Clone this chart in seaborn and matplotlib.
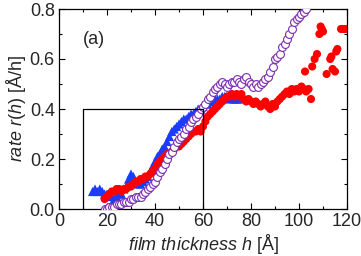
import numpy as np
import pandas as pd
import matplotlib
matplotlib.use('Agg')
import matplotlib.pyplot as plt
import seaborn as sns
from matplotlib.ticker import MultipleLocator

# blue triangles
h_blue = list(range(14, 76))
r_blue = [0.07, 0.08, 0.07, 0.08, 0.07, 0.06, 0.06, 0.05, 0.05, 0.04,
          0.05, 0.06, 0.06, 0.08, 0.09, 0.12, 0.14, 0.13, 0.11, 0.10,
          0.10, 0.11, 0.12, 0.13, 0.15, 0.17, 0.19, 0.21, 0.22, 0.24,
          0.25, 0.27, 0.29, 0.31, 0.32, 0.33, 0.34, 0.35, 0.36, 0.36,
          0.37, 0.38, 0.38, 0.39, 0.40, 0.40, 0.41, 0.42, 0.42, 0.43,
          0.43, 0.44, 0.44, 0.44, 0.45, 0.45, 0.45, 0.44, 0.45, 0.44,
          0.44, 0.44]

# red filled circles
h_red = list(range(19, 106)) + [102.5, 105.5, 106.5, 107.5, 108.5, 109, 109.5, 110,
                                111.5, 113, 113.5, 114, 115, 115.5, 116,
                                117.5, 118, 119, 120]
r_red = [0.04, 0.05, 0.06, 0.07, 0.07, 0.08, 0.08, 0.07, 0.08, 0.08,
         0.09, 0.09, 0.10, 0.11, 0.11, 0.12, 0.12, 0.13, 0.13, 0.14,
         0.15, 0.16, 0.18, 0.19, 0.20, 0.21, 0.22, 0.22, 0.23, 0.24,
         0.25, 0.25, 0.26, 0.27, 0.28, 0.29, 0.30, 0.31, 0.31, 0.32,
         0.31, 0.33, 0.35, 0.37, 0.38, 0.39, 0.40, 0.41, 0.42, 0.43,
         0.44, 0.45, 0.45, 0.46, 0.45, 0.46, 0.45, 0.46, 0.44, 0.43,
         0.44, 0.43, 0.42, 0.43, 0.42, 0.41, 0.42, 0.43, 0.41, 0.40,
         0.42, 0.41, 0.43, 0.44, 0.45, 0.46, 0.47, 0.46, 0.48, 0.47,
         0.48, 0.47, 0.49, 0.48, 0.47, 0.48, 0.44,
         0.55, 0.57, 0.60, 0.62, 0.70, 0.73, 0.72, 0.71,
         0.54, 0.60, 0.61, 0.56, 0.55, 0.63, 0.64,
         0.72, 0.72, 0.72, 0.72]

# purple open circles
h_purple = list(range(19, 104))
r_purple = [0.00, 0.00, 0.01, 0.01, 0.01, 0.02, 0.02, 0.02, 0.03, 0.03,
            0.03, 0.04, 0.04, 0.05, 0.05, 0.05, 0.06, 0.07, 0.08, 0.09,
            0.10, 0.11, 0.13, 0.15, 0.16, 0.18, 0.20, 0.22, 0.23, 0.25,
            0.27, 0.28, 0.29, 0.30, 0.32, 0.33, 0.35, 0.36, 0.37, 0.38,
            0.40, 0.41, 0.42, 0.44, 0.45, 0.47, 0.48, 0.49, 0.50, 0.51,
            0.50, 0.49, 0.50, 0.51, 0.51, 0.52, 0.51, 0.50, 0.52, 0.53,
            0.51, 0.50, 0.49, 0.50, 0.49, 0.50, 0.51, 0.52, 0.53, 0.55,
            0.57, 0.60, 0.61, 0.62, 0.65, 0.66, 0.68, 0.70, 0.72, 0.75,
            0.76, 0.77, 0.78, 0.79, 0.80]

# box marking the zoomed region
box_h = [10, 10, 60, 60]
box_r = [0, 0.4, 0.4, 0]

sns.set_style('ticks')
plt.rcParams['font.family'] = ['Liberation Sans', 'DejaVu Sans']
plt.rcParams['mathtext.fontset'] = 'custom'
plt.rcParams['mathtext.it'] = 'Liberation Sans:italic'
plt.rcParams['mathtext.rm'] = 'Liberation Sans'

fs = 13
fig = plt.figure(figsize=(3.61, 2.56), dpi=100)
ax = fig.add_axes([59/361, 47/256, 288/361, 200/256])

sns.scatterplot(x=h_blue, y=r_blue, marker='^', s=44, color='#1a3cff',
                edgecolor='none', linewidth=0, ax=ax, zorder=2)
sns.scatterplot(x=h_red, y=r_red, marker='o', s=34, color='#ff0000',
                edgecolor='none', linewidth=0, ax=ax, zorder=3)
sns.scatterplot(x=h_purple, y=r_purple, marker='o', s=32, facecolor='white',
                edgecolor='#7a2db0', linewidth=0.8, ax=ax, zorder=4)

ax.plot(box_h, box_r, color='black', lw=0.9, zorder=5)

ax.set_xlim(0, 120)
ax.set_ylim(0, 0.8)
ax.xaxis.set_major_locator(MultipleLocator(20))
ax.xaxis.set_minor_locator(MultipleLocator(10))
ax.yaxis.set_major_locator(MultipleLocator(0.2))
ax.yaxis.set_minor_locator(MultipleLocator(0.1))
ax.set_yticklabels(['%.1f' % v for v in ax.get_yticks()])
ax.tick_params(which='both', direction='in', top=True, right=True,
               labelsize=fs, width=0.8, color='black', pad=3)
ax.tick_params(which='major', length=4)
ax.tick_params(which='minor', length=2.5)
for s in ax.spines.values():
    s.set_linewidth(0.9)
    s.set_color('black')

ax.set_xlabel(r'$\mathit{film\ thickness\ h}$ [Å]', fontsize=fs, labelpad=1)
ax.set_ylabel(r'$\mathit{rate\ r(h)}$ [Å/h]', fontsize=fs, labelpad=1)
ax.text(10, 0.68, '(a)', fontsize=fs, va='center', ha='left')

fig.savefig('out.png', dpi=100)
